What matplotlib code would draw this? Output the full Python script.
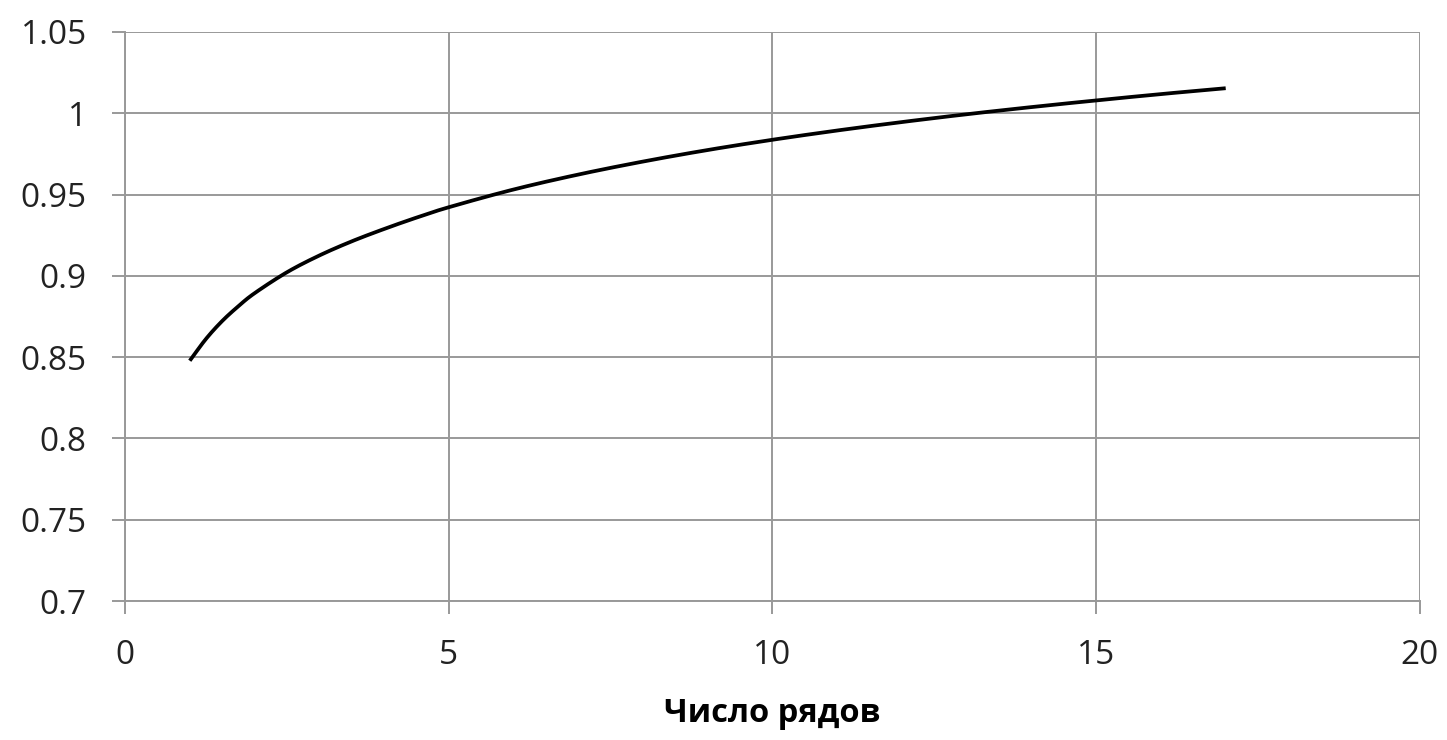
import numpy as np
import matplotlib
matplotlib.use("Agg")
import matplotlib.pyplot as plt

# Number of rows and the corresponding ratio
rows = [1, 1.25, 1.5, 1.75, 2, 2.5, 3, 3.5, 4, 4.5, 5, 6, 7, 8, 9,
        10, 11, 12, 13, 14, 15, 16, 17]
ratio = [0.8478, 0.8612, 0.8722, 0.8813, 0.8893, 0.9022, 0.9125, 0.9212,
         0.9288, 0.9358, 0.9422, 0.9531, 0.9623, 0.9703, 0.9774, 0.9837,
         0.9894, 0.9946, 0.9994, 1.0038, 1.0079, 1.0118, 1.0154]

x_ticks = [0, 5, 10, 15, 20]
y_ticks = [0.7, 0.75, 0.8, 0.85, 0.9, 0.95, 1.0, 1.05]
y_tick_labels = ["0.7", "0.75", "0.8", "0.85", "0.9", "0.95", "1", "1.05"]
x_label = "Число рядов"


def smooth_line(xs, ys, steps=20):
    """Catmull-Rom spline through the points (spreadsheet-style smoothed line)."""
    p = np.column_stack([xs, ys]).astype(float)
    p = np.vstack([2 * p[0] - p[1], p, 2 * p[-1] - p[-2]])
    out = []
    t = np.linspace(0, 1, steps, endpoint=False)[:, None]
    for i in range(1, len(p) - 2):
        p0, p1, p2, p3 = p[i - 1], p[i], p[i + 1], p[i + 2]
        seg = 0.5 * ((2 * p1) + (-p0 + p2) * t +
                     (2 * p0 - 5 * p1 + 4 * p2 - p3) * t ** 2 +
                     (-p0 + 3 * p1 - 3 * p2 + p3) * t ** 3)
        out.append(seg)
    out.append(p[-2][None, :])
    out = np.vstack(out)
    return out[:, 0], out[:, 1]


plt.rcParams["font.family"] = ["Open Sans", "DejaVu Sans"]

fig = plt.figure(figsize=(14.47, 7.40), dpi=100)
ax = fig.add_axes([0.0864, 0.1878, 0.8949, 0.7690])

grid_color = "#999999"
sx, sy = smooth_line(rows, ratio)
ax.plot(sx, sy, color="black", lw=2.7, solid_capstyle="butt", zorder=3)

ax.set_xlim(0, 20)
ax.set_ylim(0.7, 1.05)
ax.set_xticks(x_ticks)
ax.set_xticklabels([str(v) for v in x_ticks])
ax.set_yticks(y_ticks)
ax.set_yticklabels(y_tick_labels)

ax.grid(True, color=grid_color, lw=1.4)
ax.set_axisbelow(True)
for side in ("top", "right"):
    ax.spines[side].set_visible(False)
for side in ("left", "bottom"):
    ax.spines[side].set_color(grid_color)
    ax.spines[side].set_linewidth(1.4)

ax.tick_params(axis="both", direction="out", length=9.5, width=1.4,
               color=grid_color, labelsize=24, labelcolor="#222222", pad=18)

ax.set_xlabel(x_label, fontsize=23.5, fontweight="bold", labelpad=18,
              color="black")

fig.savefig("out.png", dpi=100, facecolor="white")
